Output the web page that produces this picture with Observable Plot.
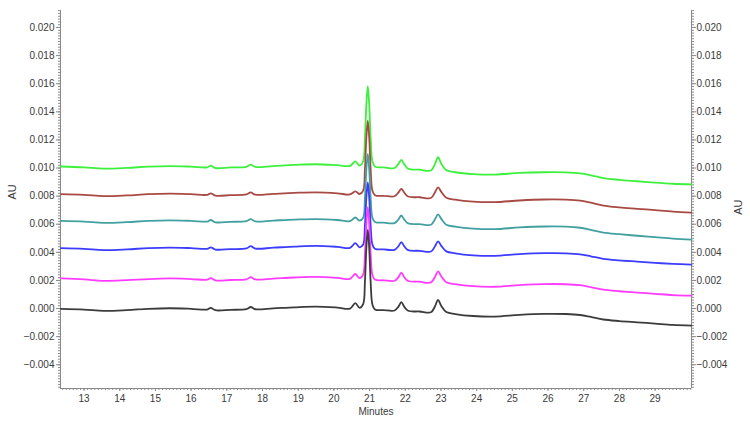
<!DOCTYPE html>
<html>
<head>
<meta charset="utf-8">
<script src="https://cdn.jsdelivr.net/npm/d3@7"></script>
<script src="https://cdn.jsdelivr.net/npm/@observablehq/plot@0.6"></script>
<style>
  html, body { margin: 0; padding: 0; background: #fff; }
  #chart { width: 750px; height: 426px; }
</style>
</head>
<body>
<div id="chart"></div>
<script>
// Retention time (minutes) sample points
const times = [12.35, 13.0, 13.55, 14.2, 14.8, 15.4, 16.0, 16.45, 16.55, 16.68, 17.1, 17.55, 17.67, 17.8, 18.3, 18.9, 19.5, 20.1, 20.45, 20.6, 20.72, 20.82, 20.87, 20.91, 20.95, 20.99, 21.03, 21.08, 21.15, 21.4, 21.7, 21.81, 21.89, 21.97, 22.08, 22.4, 22.72, 22.83, 22.92, 23.01, 23.15, 23.4, 23.9, 24.5, 25.2, 25.9, 26.5, 26.9, 27.2, 27.55, 28.0, 28.5, 29.0, 29.5, 30.02];

// Absorbance (AU) per trace
const trace1 = [0.01011, 0.01005, 0.00996, 0.01001, 0.01010, 0.01014, 0.01010, 0.01005, 0.01017, 0.01000, 0.01004, 0.01009, 0.01024, 0.01008, 0.01014, 0.01022, 0.01027, 0.01020, 0.01015, 0.01047, 0.01017, 0.01048, 0.01213, 0.01452, 0.01583, 0.01452, 0.01213, 0.01047, 0.01010, 0.01005, 0.01000, 0.01030, 0.01058, 0.01028, 0.00995, 0.00988, 0.00982, 0.01028, 0.01077, 0.01030, 0.00985, 0.00970, 0.00957, 0.00953, 0.00965, 0.00970, 0.00969, 0.00962, 0.00948, 0.00928, 0.00916, 0.00906, 0.00896, 0.00888, 0.00883];
const trace2 = [0.00814, 0.00809, 0.00800, 0.00805, 0.00814, 0.00818, 0.00814, 0.00809, 0.00820, 0.00804, 0.00807, 0.00812, 0.00826, 0.00810, 0.00816, 0.00823, 0.00827, 0.00820, 0.00812, 0.00834, 0.00815, 0.00839, 0.00993, 0.01215, 0.01337, 0.01215, 0.00993, 0.00838, 0.00807, 0.00802, 0.00799, 0.00826, 0.00852, 0.00826, 0.00797, 0.00792, 0.00787, 0.00826, 0.00862, 0.00830, 0.00789, 0.00775, 0.00761, 0.00757, 0.00769, 0.00776, 0.00775, 0.00768, 0.00753, 0.00733, 0.00720, 0.00710, 0.00700, 0.00690, 0.00683];
const trace3 = [0.00624, 0.00619, 0.00610, 0.00615, 0.00624, 0.00628, 0.00624, 0.00619, 0.00630, 0.00614, 0.00617, 0.00622, 0.00636, 0.00620, 0.00626, 0.00633, 0.00637, 0.00630, 0.00622, 0.00648, 0.00625, 0.00646, 0.00786, 0.00990, 0.01101, 0.00990, 0.00786, 0.00645, 0.00616, 0.00611, 0.00608, 0.00634, 0.00662, 0.00634, 0.00606, 0.00601, 0.00596, 0.00634, 0.00670, 0.00638, 0.00597, 0.00583, 0.00569, 0.00565, 0.00577, 0.00584, 0.00583, 0.00575, 0.00560, 0.00541, 0.00529, 0.00518, 0.00508, 0.00498, 0.00491];
const trace4 = [0.00430, 0.00425, 0.00416, 0.00421, 0.00430, 0.00434, 0.00430, 0.00425, 0.00436, 0.00420, 0.00423, 0.00428, 0.00444, 0.00427, 0.00433, 0.00441, 0.00446, 0.00439, 0.00432, 0.00465, 0.00436, 0.00456, 0.00593, 0.00790, 0.00898, 0.00790, 0.00593, 0.00455, 0.00426, 0.00421, 0.00418, 0.00444, 0.00473, 0.00444, 0.00416, 0.00411, 0.00406, 0.00442, 0.00478, 0.00446, 0.00407, 0.00393, 0.00379, 0.00375, 0.00387, 0.00394, 0.00393, 0.00386, 0.00372, 0.00354, 0.00343, 0.00334, 0.00325, 0.00318, 0.00313];
const trace5 = [0.00214, 0.00207, 0.00197, 0.00202, 0.00210, 0.00214, 0.00210, 0.00205, 0.00217, 0.00200, 0.00203, 0.00208, 0.00223, 0.00207, 0.00213, 0.00221, 0.00225, 0.00218, 0.00211, 0.00246, 0.00216, 0.00241, 0.00389, 0.00604, 0.00722, 0.00604, 0.00389, 0.00240, 0.00206, 0.00201, 0.00198, 0.00224, 0.00256, 0.00224, 0.00196, 0.00191, 0.00186, 0.00224, 0.00264, 0.00228, 0.00187, 0.00173, 0.00159, 0.00155, 0.00167, 0.00174, 0.00173, 0.00166, 0.00152, 0.00134, 0.00123, 0.00114, 0.00105, 0.00096, 0.00092];
const trace6 = [-0.00002, -0.00007, -0.00016, -0.00011, -0.00002, 0.00002, -0.00002, -0.00007, 0.00005, -0.00012, -0.00009, -0.00004, 0.00011, -0.00005, 0.00001, 0.00009, 0.00014, 0.00007, 0.00000, 0.00038, 0.00005, 0.00031, 0.00194, 0.00432, 0.00562, 0.00431, 0.00192, 0.00028, -0.00006, -0.00011, -0.00014, 0.00014, 0.00045, 0.00014, -0.00016, -0.00021, -0.00026, 0.00014, 0.00062, 0.00018, -0.00025, -0.00039, -0.00053, -0.00057, -0.00045, -0.00038, -0.00039, -0.00046, -0.00060, -0.00078, -0.00089, -0.00098, -0.00107, -0.00116, -0.00121];

const seriesNames = ["S1", "S2", "S3", "S4", "S5", "S6"];
const seriesColors = ["#3cf03c", "#a84a44", "#43a0a0", "#3c3cff", "#ff3cff", "#3c3c3c"];
const seriesValues = [trace1, trace2, trace3, trace4, trace5, trace6];

// Axis settings
const xDomain = [12.34, 30.02];
const yDomain = [-0.00569, 0.02121];
const xTicks = [13, 14, 15, 16, 17, 18, 19, 20, 21, 22, 23, 24, 25, 26, 27, 28, 29];
const yTicks = [-0.004, -0.002, 0.000, 0.002, 0.004, 0.006, 0.008, 0.010, 0.012, 0.014, 0.016, 0.018, 0.020];

const rows = [];
seriesNames.forEach((name, si) => {
  times.forEach((t, i) => rows.push({series: name, t, v: seriesValues[si][i]}));
});

const axisColor = "#8a8a8a";
const textColor = "#3a3a3a";
const blank = () => "";

const chart = Plot.plot({
  width: 750,
  height: 426,
  marginLeft: 60,
  marginRight: 59,
  marginTop: 10,
  marginBottom: 38,
  style: {fontFamily: "'Liberation Sans', Arial, sans-serif", fontSize: "10px", color: textColor, background: "#fff"},
  x: {domain: xDomain},
  y: {domain: yDomain},
  color: {domain: seriesNames, range: seriesColors},
  marks: [
    // axis lines
    Plot.ruleX([xDomain[0], xDomain[1]], {stroke: axisColor, strokeWidth: 1}),
    Plot.ruleY([yDomain[0]], {stroke: axisColor, strokeWidth: 1}),
    // minor ticks
    Plot.axisY({anchor: "left", ticks: 130, tickSize: 2, tickFormat: blank, label: null, stroke: axisColor}),
    Plot.axisY({anchor: "right", ticks: 130, tickSize: 2, tickFormat: blank, label: null, stroke: axisColor}),
    Plot.axisX({anchor: "bottom", ticks: 170, tickSize: 2, tickFormat: blank, label: null, stroke: axisColor}),
    // major axes
    Plot.axisY({anchor: "left", ticks: yTicks, tickSize: 4, tickPadding: 2, tickFormat: d3.format(".3f"), label: null, stroke: axisColor, fill: textColor}),
    Plot.axisY({anchor: "right", ticks: yTicks, tickSize: 4, tickPadding: 1, tickFormat: d3.format(".3f"), label: null, stroke: axisColor, fill: textColor}),
    Plot.axisX({anchor: "bottom", ticks: xTicks, tickSize: 3, tickPadding: 3, tickFormat: d3.format("d"), label: null, stroke: axisColor, fill: textColor}),
    // axis titles
    Plot.text(["AU"], {frameAnchor: "left", dx: -48, rotate: -90, fill: textColor, fontSize: 11}),
    Plot.text(["AU"], {frameAnchor: "right", dx: 47, rotate: -90, fill: textColor, fontSize: 11}),
    Plot.text(["Minutes"], {frameAnchor: "bottom", dy: 26, fill: textColor, fontSize: 10}),
    // traces
    Plot.line(rows, {x: "t", y: "v", z: "series", stroke: "series", strokeWidth: 1.8, curve: "catmull-rom"})
  ]
});

document.getElementById("chart").appendChild(chart);
</script>
</body>
</html>
